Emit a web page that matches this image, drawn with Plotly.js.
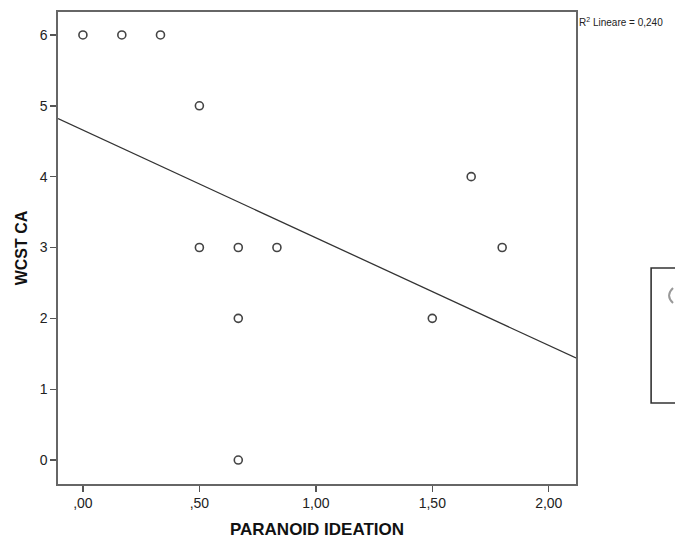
<!DOCTYPE html>
<html>
<head>
<meta charset="utf-8">
<script src="https://cdn.plot.ly/plotly-3.0.1.min.js"></script>
<style>html,body{margin:0;padding:0;background:#fff;}#chart{width:675px;height:539px;}</style>
</head>
<body>
<div id="chart"></div>
<script>
// Observed points (PARANOID IDEATION vs WCST CA)
const paranoidIdeation = [0.00, 0.167, 0.333, 0.50, 0.50, 0.667, 0.667, 0.667, 0.833, 1.50, 1.667, 1.80];
const wcstCA           = [6,    6,     6,     5,    3,    3,     2,     0,     3,     2,    4,     3];
// Linear fit line (read at the plot edges)
const fitX = [-0.107, 2.117];
const fitY = [4.82, 1.44];
// Tick labels
const xTickVals = [0, 0.5, 1, 1.5, 2];
const xTickText = [",00", ",50", "1,00", "1,50", "2,00"];
const yTickVals = [0, 1, 2, 3, 4, 5, 6];
const yTickText = ["0", "1", "2", "3", "4", "5", "6"];
const r2Label = "R<sup>2</sup> Lineare = 0,240";

const font = "Liberation Sans, Arial, sans-serif";
const traces = [
  {
    x: fitX, y: fitY, type: "scatter", mode: "lines",
    line: {color: "#333", width: 1.3}, hoverinfo: "skip", showlegend: false
  },
  {
    x: paranoidIdeation, y: wcstCA, type: "scatter", mode: "markers",
    marker: {symbol: "circle-open", size: 8, color: "#444", line: {width: 1.6, color: "#444"}},
    showlegend: false
  }
];
const axisCommon = {
  showgrid: false, zeroline: false, showline: true, mirror: true,
  linecolor: "#666", linewidth: 1.6, ticks: "outside", ticklen: 6, tickwidth: 1.4, tickcolor: "#555",
  tickfont: {family: font, size: 14, color: "#222"}
};
const layout = {
  width: 675, height: 539,
  margin: {l: 58, r: 99, t: 12, b: 55},
  paper_bgcolor: "#fff", plot_bgcolor: "#fff",
  font: {family: font},
  xaxis: Object.assign({}, axisCommon, {
    range: [-0.107, 2.117], tickvals: xTickVals, ticktext: xTickText,
    title: {text: "<b>PARANOID IDEATION</b>", font: {family: font, size: 17, color: "#111"}, standoff: 12}
  }),
  yaxis: Object.assign({}, axisCommon, {
    range: [-0.338, 6.324], tickvals: yTickVals, ticktext: yTickText,
    title: {text: "<b>WCST CA</b>", font: {family: font, size: 16, color: "#111"}, standoff: 8}
  }),
  annotations: [
    {xref: "paper", yref: "paper", x: 1.002, y: 0.978, xanchor: "left", yanchor: "middle",
     text: r2Label, showarrow: false, font: {family: font, size: 10, color: "#222"}}
  ],
  shapes: [
    {type: "rect", xref: "paper", yref: "paper", x0: 1.145, x1: 1.25, y0: 0.1716, y1: 0.4576,
     line: {color: "#333", width: 1.6}, fillcolor: "rgba(0,0,0,0)"},
    {type: "path", xref: "paper", yref: "paper",
     path: "M 1.1873 0.4153 Q 1.1720 0.3994 1.1873 0.3835",
     line: {color: "#999", width: 2}}
  ]
};
Plotly.newPlot("chart", traces, layout, {displayModeBar: false, staticPlot: true});
</script>
</body>
</html>
